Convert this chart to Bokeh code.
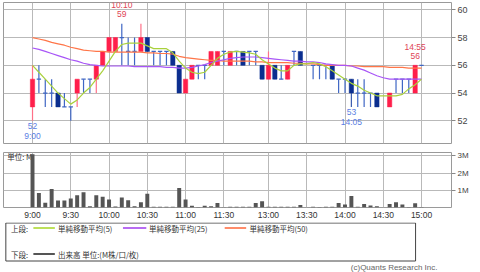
from bokeh.plotting import figure
from bokeh.layouts import column
from bokeh.models import FixedTicker, Range1d
from bokeh.core.properties import value
from bokeh.embed import file_html
from bokeh.resources import INLINE

# ---------------- data ----------------
times = ([f"{h}:{m:02d}" for h in range(9, 12) for m in range(0, 60, 5) if (h, m) <= (11, 30)] +
         [f"{h}:{m:02d}" for h in range(12, 16) for m in range(0, 60, 5) if (12, 30) <= (h, m) <= (15, 0)])

tick_labels = ["9:00", "9:30", "10:00", "10:30", "11:00", "11:30",
               "13:00", "13:30", "14:00", "14:30", "15:00"]

N = None
open_ = [53, 55, 54, 54, 54, 53, 53, 54, 55, 55,
         55, 56, 57, 57, 58, 57, 57, 57, 58, 57,
         57, 57, 57, 56, 54, 55, 56, 56, 56, 56,
         57, 56, 57, 57, 57, 57, 56, 55, 56, 55,
         55, 57, 57, N, 56, 56, 56, 56, 55, 55,
         55, 54, 54, 54, 54, N, 53, 55, 55, 55,
         54, 56]
high = [56, 56, 55, 55, 54, 54, 53, 55, 55, 55,
        56, 57, 58, 58, 59, 58, 58, 59, 58, 57,
        57, 57, 57, 56, 55, 56, 56, 56, 57, 57,
        57, 57, 57, 57, 57, 57, 56, 57, 56, 56,
        56, 57, 57, N, 56, 56, 56, 56, 55, 55,
        55, 55, 55, 54, 54, N, 54, 55, 55, 55,
        56, 56]
low = [52, 54, 53, 53, 53, 53, 52, 53, 54, 54,
       54, 56, 57, 57, 56, 56, 56, 57, 57, 56,
       56, 56, 56, 54, 54, 55, 55, 55, 56, 56,
       56, 56, 56, 56, 56, 56, 55, 55, 55, 55,
       55, 56, 56, N, 55, 55, 55, 55, 54, 54,
       53, 53, 53, 53, 53, N, 53, 54, 54, 54,
       54, 56]
close = [55, 55, 54, 54, 53, 53, 53, 55, 55, 55,
         56, 57, 58, 58, 58, 57, 57, 58, 57, 57,
         57, 57, 56, 54, 55, 56, 56, 56, 57, 57,
         57, 57, 57, 56, 57, 57, 55, 56, 55, 55,
         56, 57, 56, N, 56, 56, 56, 55, 55, 55,
         54, 54, 54, 54, 53, N, 54, 55, 55, 55,
         56, 56]

# volume in millions
volume = [3.1, 0.85, 0.27, 1.08, 0.41, 0.41, 0.52, 0.72, 0.89, 0.08,
          0.72, 0.63, 0.47, 0.06, 0.58, 0.42, 0.08, 0.30, 0.80, 0.05,
          0.04, 0.04, 0.05, 1.13, 0.47, 0.10, 0.03, 0.10, 0.07, 0.26,
          0.02, 0.05, 0.05, 0.04, 0.04, 0.26, 0.36, 0.05, 0.05, 0.05,
          0.05, 0.04, 0.14, 0.0, 0.04, 0.03, 0.04, 0.05, 0.26, 0.17,
          0.67, 0.05, 0.20, 0.12, 0.08, 0.0, 0.20, 0.30, 0.17, 0.03,
          0.25, 0.03]

ma5 = [56.0, 55.5, 55.0, 54.5, 54.0, 53.6, 53.2, 53.5, 54.0, 54.4,
       55.0, 55.6, 56.3, 57.0, 57.5, 57.6, 57.6, 57.6, 57.4, 57.2,
       57.2, 57.2, 56.9, 56.3, 55.8, 55.5, 55.4, 55.5, 56.0, 56.5,
       56.8, 56.95, 57.0, 56.95, 56.9, 56.8, 56.4, 56.1, 55.8, 55.6,
       55.6, 56.0, 56.1, 56.1, 56.2, 56.1, 55.9, 55.6, 55.3, 55.0,
       54.7, 54.5, 54.2, 54.0, 53.8, 53.8, 53.8, 53.8, 53.9, 54.3,
       54.6, 55.0]
ma25 = [57.25, 57.15, 57.0, 56.85, 56.7, 56.55, 56.4, 56.3, 56.15, 56.05,
        56.0, 55.95, 55.95, 55.95, 55.95, 55.95, 55.9, 55.9, 55.9, 55.9,
        55.9, 55.85, 55.85, 55.8, 55.8, 55.85, 55.95, 56.05, 56.2, 56.3,
        56.4, 56.5, 56.55, 56.6, 56.6, 56.6, 56.55, 56.5, 56.45, 56.4,
        56.35, 56.3, 56.3, 56.25, 56.25, 56.2, 56.1, 56.05, 56.0, 56.0,
        55.95, 55.8, 55.65, 55.45, 55.25, 55.1, 55.0, 55.0, 55.0, 55.0,
        55.0, 55.0]
ma50 = [58.0, 57.9, 57.8, 57.65, 57.55, 57.45, 57.3, 57.2, 57.1, 57.05,
        57.0, 57.0, 56.95, 56.95, 56.95, 56.95, 56.95, 56.95, 56.9, 56.9,
        56.85, 56.85, 56.8, 56.65, 56.55, 56.5, 56.45, 56.4, 56.35, 56.35,
        56.3, 56.3, 56.3, 56.3, 56.3, 56.25, 56.25, 56.2, 56.2, 56.2,
        56.2, 56.15, 56.15, 56.1, 56.1, 56.05, 56.0, 56.0, 56.0, 56.0,
        55.95, 55.95, 55.9, 55.9, 55.9, 55.9, 55.85, 55.85, 55.85, 55.8,
        55.8, 55.8]

price_ticks = [52, 54, 56, 58, 60]
volume_ticks = [1, 2, 3]
volume_tick_labels = ["1M", "2M", "3M"]

mark_times = ["9:00", "10:10", "14:05", "14:55"]
mark_kind = ["low", "high", "low", "high"]

ma_labels = ["単純移動平均(5)", "単純移動平均(25)", "単純移動平均(50)"]
vol_label = "出来高 単位:(M株/口/枚)"
row_labels = ["上段:", "下段:"]
unit_label = "単位: M"
credit = "(c)Quants Research Inc."

# ---------------- styles ----------------
UP = "#ff1f4b"
UP_WICK = "#ff7088"
DOWN = "#0b2e8f"
DOWN_WICK = "#3b5cb0"
DOJI = "#3f66c4"
C_MA5 = "#a9d13c"
C_MA25 = "#a855f7"
C_MA50 = "#ff7548"
GRID = "#b9b9b9"
FRAME = "#9a9a9a"
NUM_FONT = "Liberation Sans"
JP_FONT = "Noto Sans CJK JP"

idx = list(range(len(times)))
tick_idx = [times.index(t) for t in tick_labels]
traded = [i for i in idx if open_[i] is not None]
up = [i for i in traded if close[i] > open_[i]]
down = [i for i in traded if close[i] < open_[i]]
doji = [i for i in traded if close[i] == open_[i]]

xr = Range1d(-4.55, 65.7)

# ---------------- price panel ----------------
top = figure(width=480, height=146, x_range=xr, y_range=Range1d(50.36, 60.53),
             x_axis_location=None, y_axis_location="right",
             toolbar_location=None, output_backend="svg",
             min_border_left=3, min_border_right=29, min_border_top=2, min_border_bottom=3,
             background_fill_color="white", border_fill_color="white")
top.outline_line_color = FRAME
top.xgrid.ticker = FixedTicker(ticks=tick_idx)
top.ygrid.ticker = FixedTicker(ticks=price_ticks)
top.grid.grid_line_color = GRID
top.yaxis.ticker = FixedTicker(ticks=price_ticks)
top.yaxis.axis_line_color = None
top.yaxis.major_tick_out = 4
top.yaxis.major_tick_in = 0
top.yaxis.major_tick_line_color = "#888888"
top.yaxis.minor_tick_line_color = None
top.yaxis.major_label_standoff = 2
top.yaxis.major_label_text_font = NUM_FONT
top.yaxis.major_label_text_font_size = "9px"
top.yaxis.major_label_text_color = "#444444"

for grp, wc in ((up, UP_WICK), (down, DOWN_WICK), (doji, DOJI)):
    top.segment(x0=grp, y0=[low[i] for i in grp], x1=grp, y1=[high[i] for i in grp],
                line_color=wc, line_width=1.2)
top.vbar(x=up, width=0.68, top=[close[i] for i in up], bottom=[open_[i] for i in up],
         fill_color=UP, line_color=UP, line_width=0.5)
top.vbar(x=down, width=0.68, top=[open_[i] for i in down], bottom=[close[i] for i in down],
         fill_color=DOWN, line_color=DOWN, line_width=0.5)
top.rect(x=doji, y=[open_[i] for i in doji], width=0.68, height=1.2, height_units="screen",
         fill_color=DOJI, line_color=None)

top.line(idx, ma50, line_color=C_MA50, line_width=1.2)
top.line(idx, ma25, line_color=C_MA25, line_width=1.2)
top.line(idx, ma5, line_color=C_MA5, line_width=1.2)

for t, kind in zip(mark_times, mark_kind):
    i = times.index(t)
    if kind == "high":
        y = high[i]
        col = "#e04456"
        offs = (-9.5, -18.5)
    else:
        y = low[i]
        col = "#5a80e4"
        offs = (5.5, 15.0)
    top.text(x=[i], y=[y], text=[str(y)], y_offset=offs[0], text_align="center",
             text_baseline="middle", text_font=value(NUM_FONT), text_font_size="8.5px",
             text_color=col)
    top.text(x=[i], y=[y], text=[t], y_offset=offs[1], text_align="center",
             text_baseline="middle", text_font=value(NUM_FONT), text_font_size="8.5px",
             text_color=col)

# ---------------- volume panel ----------------
vol = figure(width=480, height=76, x_range=xr, y_range=Range1d(0, 3.2),
             y_axis_location="right", toolbar_location=None, output_backend="svg",
             min_border_left=3, min_border_right=29, min_border_top=6, min_border_bottom=12,
             background_fill_color="white", border_fill_color="white")
vol.outline_line_color = FRAME
vol.xgrid.ticker = FixedTicker(ticks=tick_idx)
vol.ygrid.ticker = FixedTicker(ticks=volume_ticks)
vol.grid.grid_line_color = GRID

vol.xaxis.ticker = FixedTicker(ticks=tick_idx)
vol.xaxis.major_label_overrides = {i: t for i, t in zip(tick_idx, tick_labels)}
vol.xaxis.axis_line_color = None
vol.xaxis.major_tick_out = 0
vol.xaxis.major_tick_in = 0
vol.xaxis.minor_tick_line_color = None
vol.xaxis.major_label_standoff = 2
vol.xaxis.major_label_text_font = NUM_FONT
vol.xaxis.major_label_text_font_size = "8.5px"
vol.xaxis.major_label_text_color = "#333333"

vol.yaxis.ticker = FixedTicker(ticks=volume_ticks)
vol.yaxis.major_label_overrides = {v: s for v, s in zip(volume_ticks, volume_tick_labels)}
vol.yaxis.axis_line_color = None
vol.yaxis.major_tick_out = 4
vol.yaxis.major_tick_in = 0
vol.yaxis.major_tick_line_color = "#888888"
vol.yaxis.minor_tick_line_color = None
vol.yaxis.major_label_standoff = 2
vol.yaxis.major_label_text_font = NUM_FONT
vol.yaxis.major_label_text_font_size = "8px"
vol.yaxis.major_label_text_color = "#444444"

vol.text(x=[xr.start + 0.6], y=[2.96], text=[unit_label], text_baseline="middle",
         text_font=value(JP_FONT), text_font_size="7.5px", text_color="#333333")
vi = [i for i in idx if volume[i] > 0]
vol.vbar(x=vi, width=0.62, top=[volume[i] for i in vi], bottom=0,
         fill_color="#555555", line_color=None)

# ---------------- legend panel ----------------
leg = figure(width=480, height=50, x_range=Range1d(0, 480), y_range=Range1d(272, 222),
             x_axis_location=None, y_axis_location=None, toolbar_location=None,
             output_backend="svg", min_border=0, outline_line_color=None,
             background_fill_color="white", border_fill_color="white")
leg.grid.grid_line_color = None
leg.quad(left=2.5, right=441.5, top=222.5, bottom=260.5, fill_color=None,
         line_color="#444444", line_width=1)
r1, r2 = 227.5, 253.5
leg.segment(x0=[32, 128, 237, 32], y0=[r1, r1, r1, r2], x1=[55, 153, 260, 55], y1=[r1, r1, r1, r2],
            line_color=["#bde05a", "#b86cf2", "#ff8c6a", "#555555"], line_width=2)
leg.text(x=[8, 58.5, 156, 263.5, 8, 58.5], y=[r1, r1, r1, r1, r2, r2],
         text=[row_labels[0]] + ma_labels + [row_labels[1], vol_label],
         text_baseline="middle", text_font=value(JP_FONT), text_font_size="7.5px",
         text_color="#333333")
leg.text(x=[465], y=[266.5], text=[credit], text_align="right", text_baseline="middle",
         text_font=value(NUM_FONT), text_font_size="8px", text_color="#666666")

layout = column(top, vol, leg, spacing=0)
open("out.html", "w").write(file_html(layout, INLINE))
